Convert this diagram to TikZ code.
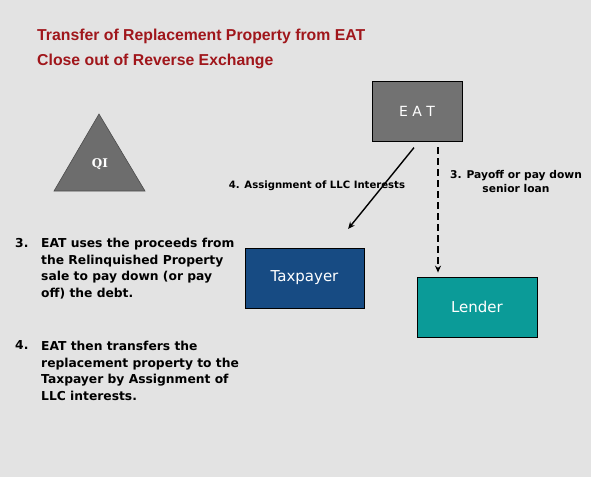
\documentclass[tikz,border=0pt]{standalone}
\usepackage{fontspec}
\setmainfont{DejaVu Sans}
\newfontfamily\titlefont{Liberation Sans}
\newfontfamily\qifont{DejaVu Serif}
\usepackage{tikz}
\usetikzlibrary{positioning}
\usetikzlibrary{arrows.meta}
\definecolor{titlered}{HTML}{A0161B}
\definecolor{bggray}{HTML}{E3E3E3}
\definecolor{eatgray}{HTML}{727272}
\definecolor{qigray}{HTML}{6D6D6D}
\definecolor{taxblue}{HTML}{174B83}
\definecolor{lenderteal}{HTML}{0B9B98}

\begin{document}
\begin{tikzpicture}[x=1pt, y=-1pt,
  party/.style={draw=black, line width=0.8pt, inner sep=0pt, minimum height=60pt, text=white},
  steptext/.style={inner sep=0pt, anchor=north west, align=left, font=\bfseries\fontsize{12.3}{16.8}\selectfont},
  arrowlabel/.style={inner sep=0pt, align=center},
  flow/.style={line width=1.4pt, -{Stealth[length=7pt,width=6pt]}}]
\useasboundingbox (0,0) rectangle (591,477);
\fill[bggray] (0,0) rectangle (591,477);
% -- title --
\node[anchor=base west, inner sep=0pt, text=titlered, font=\titlefont\bfseries\fontsize{15.8}{19}\selectfont] (title1) at (37,40) {Transfer of Replacement Property from EAT};
\node[anchor=base west, inner sep=0pt, text=titlered, font=\titlefont\bfseries\fontsize{15.8}{19}\selectfont] (title2) at (37,65) {Close out of Reverse Exchange};
% -- QI triangle --
\draw[fill=qigray, draw=black!70, line width=0.6pt] (99,114) -- (145,191) -- (54,191) -- cycle;
\node[text=white, inner sep=0pt, font=\qifont\bfseries\fontsize{12}{14}\selectfont] (qi) at (100,164) {QI};
% -- parties --
\node[party, fill=eatgray, minimum width=90pt, font=\fontsize{14}{16}\selectfont] (eat) at (417,111) {E A T};
\node[party, fill=taxblue, minimum width=119pt, font=\fontsize{15}{17}\selectfont] (tax) at (304.5,278) {Taxpayer};
\node[party, fill=lenderteal, minimum width=120pt, font=\fontsize{15}{17}\selectfont] (lender) at (477,307) {Lender};
% -- connectors --
\draw[flow, shorten <=8pt, shorten >=24pt] ([xshift=2pt]eat.south) -- ([xshift=28.5pt]tax.north);
\draw[flow, dash pattern=on 7pt off 4pt, shorten <=6pt, shorten >=4pt] ([xshift=21pt]eat.south) -- ([xshift=-39pt]lender.north);
\node[arrowlabel, anchor=base, font=\bfseries\fontsize{10.1}{14}\selectfont] (asg) at (317,188) {4. Assignment of LLC Interests};
\node[arrowlabel, anchor=north, font=\bfseries\fontsize{10.7}{14}\selectfont] (pay) at (516,170) {3. Payoff or pay down\\senior loan};
% -- steps --
\node[steptext] (n3) at (15,237.7) {3.};
\node[steptext] (s3) at (41,237.7) {EAT uses the proceeds from\\the Relinquished Property\\sale to pay down (or pay\\off) the debt.};
\node[steptext] (n4) at (15,340.7) {4.};
\node[steptext] (s4) at (41,340.7) {EAT then transfers the\\replacement property to the\\Taxpayer by Assignment of\\LLC interests.};
\end{tikzpicture}
\end{document}
